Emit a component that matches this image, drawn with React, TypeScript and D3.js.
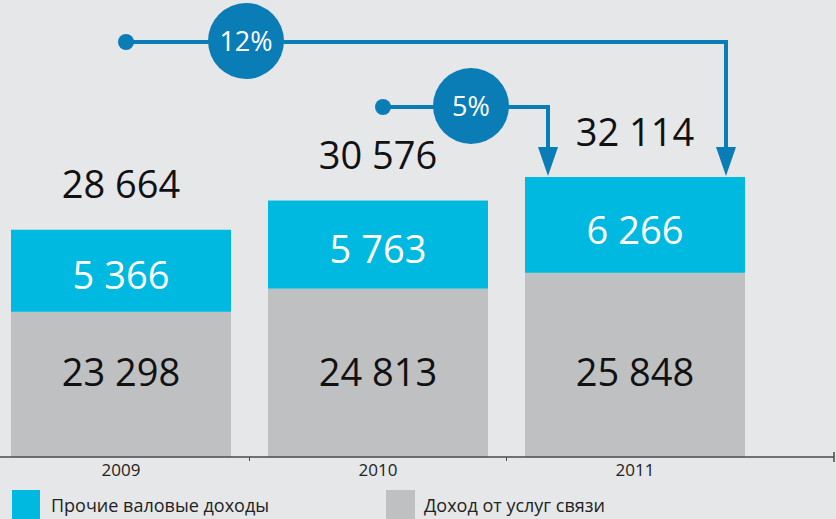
import * as d3 from 'd3'

const years = ['2009', '2010', '2011']
const commsIncome = [23298, 24813, 25848]
const otherIncome = [5366, 5763, 6266]
const seriesNames = ['Прочие валовые доходы', 'Доход от услуг связи']

const W = 836
const H = 519
const BG = '#e6e7e9'
const CYAN = '#00b9e0'
const GREY = '#bfc0c2'
const BLUE = '#0a7db7'
const FONT = '"Open Sans", sans-serif'

const fmt = d3.formatLocale({ decimal: ',', thousands: '\u00a0', grouping: [3], currency: ['', ''] }).format(',d')

export default function App() {
  const totals = years.map((_, i) => commsIncome[i] + otherIncome[i])
  const base = 457

  const x = d3.scaleBand<string>().domain(years).range([-7.5, 763.5]).paddingInner(0.144).paddingOuter(0.072)
  const y = d3.scaleLinear().domain([13800, 32114]).range([base, 177])
  const bw = x.bandwidth()
  const step = x.step()

  const stack = d3.stack<number>().keys(['comms', 'other']).value((i, k) => (k === 'comms' ? commsIncome[i] : otherIncome[i]))
  const series = stack(years.map((_, i) => i))
  const fills = [GREY, CYAN]

  const last = years.length - 1
  const xLast = x(years[last])!
  const growth = [
    { from: 0, pct: Math.round((totals[last] / totals[0] - 1) * 100), lineY: 42, arrowX: xLast + bw - 19, circleX: 246 },
    { from: 1, pct: Math.round((totals[last] / totals[1] - 1) * 100), lineY: 107, arrowX: xLast + 23, circleX: 471 },
  ]
  const topY = y(totals[last])

  return (
    <svg width={W} height={H} style={{ position: 'absolute', left: 0, top: 0, background: BG }} fontFamily={FONT}>
      <rect width={W} height={H} fill={BG} />
      {series.map((s, si) =>
        s.map((d, i) => {
          const y0 = si === 0 ? base : y(d[0])
          const y1 = y(d[1])
          return <rect key={`${si}-${i}`} x={x(years[i])} y={y1} width={bw} height={y0 - y1} fill={fills[si]} />
        }),
      )}
      {years.map((yr, i) => {
        const cx = x(yr)! + bw / 2
        const split = y(commsIncome[i])
        const top = y(totals[i])
        return (
          <g key={yr} textAnchor="middle" fontSize={38}>
            <text x={cx} y={base - 85} dy="0.36em" fill="#111">{fmt(commsIncome[i])}</text>
            <text x={cx} y={(split + top) / 2 + 5} dy="0.36em" fill="#fff">{fmt(otherIncome[i])}</text>
            <text x={cx} y={top - 45} dy="0.36em" fill="#111">{fmt(totals[i])}</text>
            <text x={cx} y={470} dy="0.36em" fontSize={17} fill="#222">{yr}</text>
          </g>
        )
      })}
      <line x1={0} x2={834} y1={base} y2={base} stroke="#4a4a4a" strokeWidth={1.5} />
      {years.slice(1).map((yr) => {
        const tx = x(yr)! - (step - bw) / 2
        return <line key={yr} x1={tx} x2={tx} y1={base} y2={base + 4} stroke="#4a4a4a" strokeWidth={1} />
      })}
      <line x1={834} x2={834} y1={base - 5} y2={base + 5} stroke="#4a4a4a" strokeWidth={1.5} />
      {growth.map((g) => {
        const sx = x(years[g.from])! + bw / 2 + 5
        const tipY = topY - 1
        const headH = 29
        return (
          <g key={g.from}>
            <path d={`M${sx},${g.lineY}H${g.arrowX}V${tipY - headH + 2}`} fill="none" stroke={BLUE} strokeWidth={4} />
            <circle cx={sx} cy={g.lineY} r={8} fill={BLUE} />
            <path d={`M${g.arrowX - 10},${tipY - headH}L${g.arrowX + 10},${tipY - headH}L${g.arrowX},${tipY}Z`} fill={BLUE} />
            <circle cx={g.circleX} cy={g.lineY - 1} r={38} fill={BLUE} />
            <text x={g.circleX} y={g.lineY - 1} dy="0.36em" textAnchor="middle" fontSize={27} fill="#fff">{g.pct}%</text>
          </g>
        )
      })}
      <g fontSize={18} fill="#222">
        <rect x={12} y={490} width={28} height={30} fill={CYAN} />
        <text x={51} y={506} dy="0.36em">{seriesNames[0]}</text>
        <rect x={386} y={490} width={29} height={30} fill={GREY} />
        <text x={424} y={506} dy="0.36em">{seriesNames[1]}</text>
      </g>
    </svg>
  )
}
